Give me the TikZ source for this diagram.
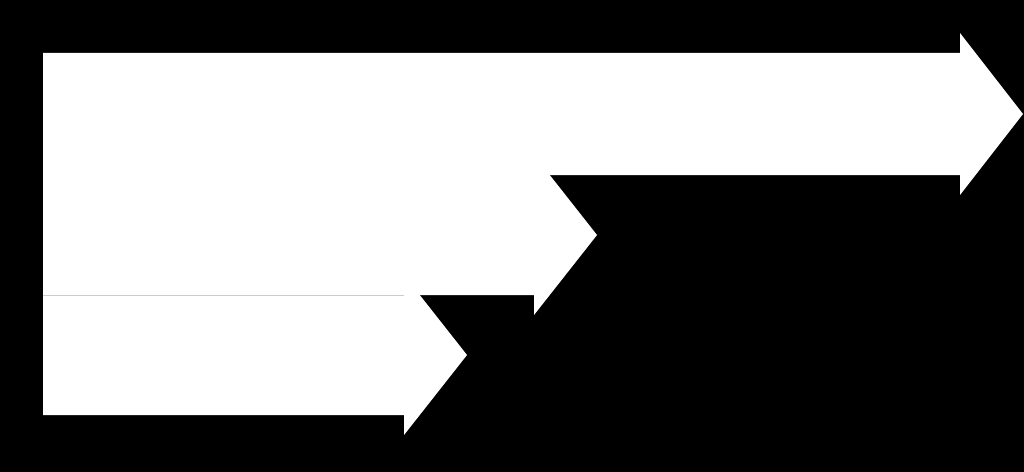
\documentclass[tikz,border=0pt]{standalone}
\usepackage{tikz}

\tikzset{bararrow/.style={fill=white, draw=none}}

\begin{document}
\begin{tikzpicture}[x=0.025cm, y=-0.025cm]
      \fill [black] (0, 0) rectangle (1024, 472);
      \useasboundingbox (0, 0) rectangle (1024, 472);

      % arrows, lowest first
      \foreach \xb/\yt/\yb in {404/295/415, 534/175/295, 960/53/175} {
        \fill [bararrow] (43, \yt) -- (\xb, \yt) -- (\xb, \yt-20)
          -- (\xb+63, {(\yt+\yb)/2}) -- (\xb, \yb+20) -- (\xb, \yb)
          -- (43, \yb) -- cycle;
      }

      \coordinate (seamL) at (43, 295);
      \coordinate (seamR) at (404, 295);
      \draw [gray!40, line width=0.4pt] (seamL) -- (seamR);
    \end{tikzpicture}
\end{document}
